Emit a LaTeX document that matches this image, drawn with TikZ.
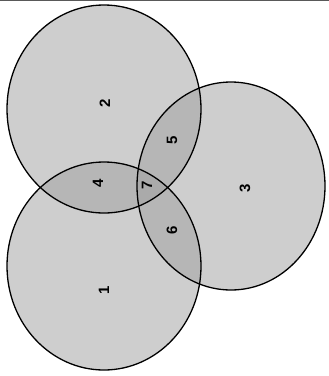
\documentclass[tikz,border=0pt]{standalone}
\usepackage{fontspec}
\setsansfont{Liberation Sans}
\begin{document}
\begin{tikzpicture}[x=1pt,y=-1pt,
  every node/.style={font=\sffamily\bfseries\fontsize{15}{17}\selectfont,rotate=90},
  setfill/.style={fill=gray!75,fill opacity=0.5},
  setline/.style={draw=black,line width=1.3pt}]
  \useasboundingbox (0,0) rectangle (329,376);
  \fill[white] (0,0) rectangle (329,376);
  \draw[gray!70!black,thin] (0,0.5)--(329,0.5);
  % the three sets
  \foreach \cx/\cy/\rx in {104/109/97,104/266/97,231/186/94}
    \fill[setfill] (\cx,\cy) ellipse [x radius=\rx pt,y radius=104pt];
  \foreach \cx/\cy/\rx in {104/109/97,104/266/97,231/186/94}
    \draw[setline] (\cx,\cy) ellipse [x radius=\rx pt,y radius=104pt];
  % region numbers
  \node (r1) at (104,290) {1};
  \node (r2) at (105,103) {2};
  \node (r3) at (245,188) {3};
  \node (r4) at (98,183) {4};
  \node (r5) at (172,140) {5};
  \node (r6) at (172,230) {6};
  \node (r7) at (147,185) {7};
\end{tikzpicture}
\end{document}
